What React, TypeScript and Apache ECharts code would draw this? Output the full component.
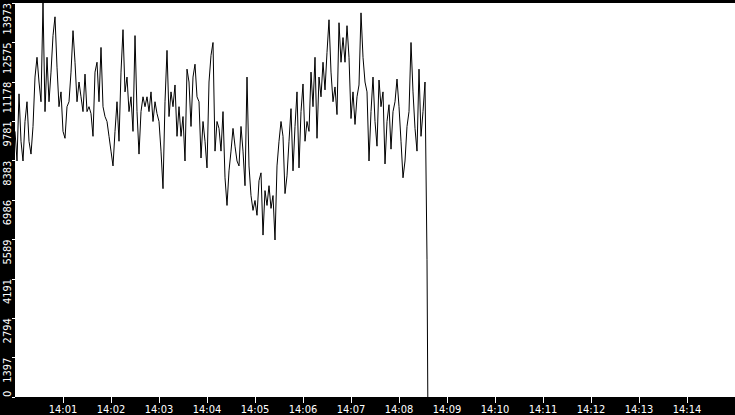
import React, { useEffect, useRef } from "react";
import * as echarts from "echarts";

// samples every 2.5 s starting 14:00:00
const startTime = new Date(2024, 0, 1, 14, 0, 0).getTime();
const sampleMs = 2500;

const throughput: number[] = [
  9420, 8370, 10751, 9070, 8370, 9770, 10471, 9070, 8615, 9595,
  11346, 12047, 11171, 10471, 13973, 10121, 12047, 10471, 11522, 12817,
  13483, 11697, 10296, 10821, 9420, 9175, 10296, 10471, 11522, 12992,
  11872, 10471, 11171, 10646, 10121, 11451,
  10121, 10296, 10051, 9245, 11522, 11872, 10471, 12397, 10296, 9946,
  9771, 9245, 8720, 8195, 9420, 10471, 9070, 11522, 13027, 10821,
  11346, 10121, 10646, 9420, 12817, 10121, 8615, 10121, 10646, 10296,
  10646, 10121, 10821, 9771, 10471,
  10051, 9771, 8720, 7389, 10471, 12292, 9946, 10821, 10296, 11066,
  9245, 10296, 9245, 9946, 8370, 11627, 11171, 9595, 11346, 11802,
  10646, 10471, 8475, 9771, 9070, 8125, 11171, 12117, 12572, 8720,
  9771, 9525, 8720, 10121, 7774,
  6794, 8020, 8720, 9525, 8895, 8370, 8195, 9595, 8720, 7494,
  11346, 8195, 7144, 6619, 6969, 6444, 7669, 7950, 5743, 7319,
  6794, 7494, 6689, 7144, 5568, 8195, 9070, 9771, 9245, 7214,
  7844, 9070, 10226, 8020, 9595,
  10821, 8125, 10121, 11101, 9070, 9771, 9420, 11522, 10296, 12047,
  9175, 11346, 10646, 11872, 10891, 12222, 13378, 11522, 10471, 10996,
  10016, 13273, 11872, 12747, 11872, 13168, 12047, 9876, 10821, 9666,
  10646, 11066, 13623, 12047, 11171,
  10821, 8370, 10121, 11346, 9771, 8895, 11241, 10296, 10821, 8265,
  9771, 10366, 8790, 10121, 10471, 11276, 10296, 9070, 7774, 8370,
  9595, 10121, 12572, 10821, 9525, 8720, 11627, 9245, 10121, 11171,
  4868,
];

// the feed stops here and falls to zero
const dropOffsetSec = 516;
const dropValue = 0;

const xTickLabels = [
  "14:01", "14:02", "14:03", "14:04", "14:05", "14:06", "14:07",
  "14:08", "14:09", "14:10", "14:11", "14:12", "14:13", "14:14",
];
const yTickLabels = [0, 1397, 2794, 4191, 5589, 6986, 8383, 9781, 11178, 12575, 13973];

const labelFont = "'DejaVu Sans Condensed', 'DejaVu Sans', sans-serif";

const toTime = (hhmm: string) => {
  const [h, m] = hhmm.split(":").map(Number);
  return new Date(2024, 0, 1, h, m, 0).getTime();
};

const pad = (n: number) => (n < 10 ? "0" + n : "" + n);

const App: React.FC = () => {
  const chartRef = useRef<HTMLDivElement>(null);

  useEffect(() => {
    document.body.style.margin = "0";
    if (!chartRef.current) return;

    const chartInstance = echarts.init(chartRef.current, undefined, { renderer: "svg" });

    const seriesData: [number, number][] = throughput.map((v, i) => [
      startTime + i * sampleMs,
      v,
    ]);
    seriesData.push([startTime + dropOffsetSec * 1000, dropValue]);

    const xTicks = xTickLabels.map(toTime);
    const yMax = yTickLabels[yTickLabels.length - 1];

    const yLabel = {
      rotate: 90,
      verticalAlign: "bottom",
      margin: 2,
      color: "#fff",
      fontFamily: labelFont,
      fontSize: 11,
      formatter: (v: number) => String(Math.round(v)),
    };

    const option = {
      animation: false,
      backgroundColor: "#000",
      grid: {
        left: 15,
        right: 0,
        top: 0,
        bottom: 16,
        show: true,
        backgroundColor: "#fff",
        borderWidth: 0,
      },
      xAxis: {
        // timestamps on a value axis so ticks can be listed
        type: "value",
        min: toTime("14:00"),
        max: toTime("14:15"),
        scale: true,
        axisLine: { show: false },
        splitLine: { show: false },
        axisTick: {
          show: true,
          length: 6,
          customValues: xTicks,
          lineStyle: { color: "#fff", width: 1 },
        },
        axisLabel: {
          customValues: xTicks,
          color: "#fff",
          fontFamily: labelFont,
          fontSize: 11,
          margin: 7,
          formatter: (v: number) => {
            const d = new Date(v);
            return pad(d.getHours()) + ":" + pad(d.getMinutes());
          },
        },
      },
      yAxis: [
        {
          type: "value",
          position: "left",
          min: 0,
          max: yMax,
          axisLine: { show: false },
          splitLine: { show: false },
          axisTick: {
            show: true,
            length: 3,
            customValues: yTickLabels,
            lineStyle: { color: "#fff", width: 1 },
          },
          axisLabel: { ...yLabel, align: "right", customValues: yTickLabels.slice(1) },
        },
        {
          // zero label sits above its tick
          type: "value",
          position: "left",
          offset: 0,
          min: 0,
          max: yMax,
          axisLine: { show: false },
          splitLine: { show: false },
          axisTick: { show: false },
          axisLabel: { ...yLabel, align: "left", customValues: [0] },
        },
      ],
      series: [
        {
          type: "line",
          yAxisIndex: 0,
          data: seriesData,
          showSymbol: false,
          symbol: "none",
          lineStyle: { color: "#000", width: 1 },
        },
      ],
    };

    chartInstance.setOption(option);

    return () => {
      chartInstance.dispose();
    };
  }, []);

  return <div ref={chartRef} style={{ width: 735, height: 415 }} />;
};

export default App;
